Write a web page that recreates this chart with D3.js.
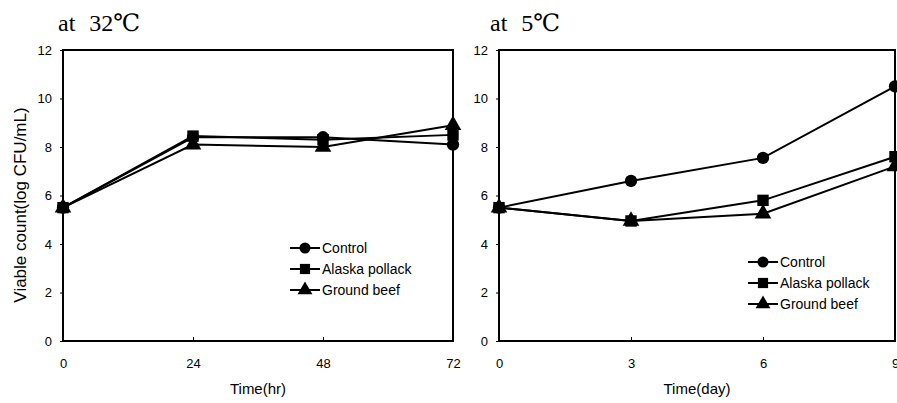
<!DOCTYPE html>
<html lang="en">
<head>
<meta charset="utf-8">
<title>Viable count at 32 and 5 degrees</title>
<script src="https://d3js.org/d3.v7.min.js"></script>
<style>
body { margin: 0; background: #fff; }
.line { fill: none; stroke: #000; stroke-width: 2px; }
.tick text { font-family: "Liberation Sans", Arial, sans-serif; font-size: 13px; }
.lab { font-family: "Liberation Sans", Arial, sans-serif; font-size: 14px; }
.title { font-family: "Liberation Serif", "DejaVu Serif", serif; font-size: 24px; }
</style>
</head>
<body>
<script>

// series names and y ticks
var seriesNames = ["Control", "Alaska pollack", "Ground beef"];
var yTicks = [0, 2, 4, 6, 8, 10, 12];

// at 32C, time in hr
var hotTimes = [0, 24, 48, 72];
var hotControl = [5.5, 8.4, 8.4, 8.1];
var hotPollack = [5.5, 8.45, 8.3, 8.5];
var hotBeef = [5.5, 8.1, 8.0, 8.9];

// at 5C, time in day
var coldTimes = [0, 3, 6, 9];
var coldControl = [5.5, 6.6, 7.55, 10.5];
var coldPollack = [5.5, 4.95, 5.8, 7.6];
var coldBeef = [5.5, 4.95, 5.25, 7.2];

var W = 897, H = 403;
var svg = d3.select("body").append("svg")
    .attr("width", W)
    .attr("height", H);

var symbols = [d3.symbolCircle, d3.symbolSquare, d3.symbolTriangle];
var symSizes = [120, 130, 120];

function panel(opt) {
  var x = d3.scaleLinear().domain(opt.domain).range([opt.left, opt.right]);
  var y = d3.scaleLinear().domain([0, 12]).range([341, 50]);

  var g = svg.append("g");

  g.append("text")
      .attr("class", "title")
      .attr("x", opt.titleX)
      .attr("y", 31)
      .text(opt.title);

  // y axis ticks
  g.append("g")
      .attr("transform", "translate(" + opt.left + ",0)")
      .call(d3.axisLeft(y).tickValues(yTicks).tickSize(3).tickPadding(8))
      .call(function(a) { a.select(".domain").remove(); });

  // x axis ticks, pointing inward
  g.append("g")
      .attr("transform", "translate(0,341)")
      .call(d3.axisBottom(x).tickValues(opt.ticks).tickSizeInner(-4).tickSizeOuter(0).tickPadding(18))
      .call(function(a) { a.select(".domain").remove(); });

  g.selectAll(".tick line").attr("stroke", "#000");
  g.selectAll(".tick text").attr("fill", "#000");

  // frame
  g.append("rect")
      .attr("x", opt.left)
      .attr("y", y(12))
      .attr("width", opt.right - opt.left)
      .attr("height", y(0) - y(12))
      .attr("fill", "none")
      .attr("stroke", "#000")
      .attr("stroke-width", 2);

  var line = d3.line()
      .x(function(d) { return x(d[0]); })
      .y(function(d) { return y(d[1]); });

  opt.series.forEach(function(vals, i) {
    var pts = opt.domainVals.map(function(t, j) { return [t, vals[j]]; });
    g.append("path")
        .datum(pts)
        .attr("class", "line")
        .attr("d", line);
    g.selectAll(".m" + i)
        .data(pts)
        .enter().append("path")
        .attr("transform", function(d) { return "translate(" + x(d[0]) + "," + y(d[1]) + ")"; })
        .attr("d", d3.symbol().type(symbols[i]).size(symSizes[i]))
        .attr("fill", "#000");
  });

  // legend
  seriesNames.forEach(function(name, i) {
    var ly = opt.legendY + i * 21;
    g.append("line")
        .attr("x1", opt.legendX)
        .attr("x2", opt.legendX + 30)
        .attr("y1", ly)
        .attr("y2", ly)
        .attr("stroke", "#000")
        .attr("stroke-width", 2);
    g.append("path")
        .attr("transform", "translate(" + (opt.legendX + 15) + "," + ly + ")")
        .attr("d", d3.symbol().type(symbols[i]).size(symSizes[i] * 0.8))
        .attr("fill", "#000");
    g.append("text")
        .attr("class", "lab")
        .attr("x", opt.legendX + 32)
        .attr("y", ly + 5)
        .text(name);
  });

  g.append("text")
      .attr("class", "lab")
      .attr("x", (opt.left + opt.right) / 2)
      .attr("y", 394)
      .attr("text-anchor", "middle")
      .style("font-size", "15px")
      .text(opt.xLabel);
}

panel({
  left: 63, right: 453,
  domain: [0, 72], ticks: hotTimes, domainVals: hotTimes,
  series: [hotControl, hotPollack, hotBeef],
  title: "at\u2002\u200a32\u2103", titleX: 58,
  legendX: 290, legendY: 248,
  xLabel: "Time(hr)"
});

panel({
  left: 499, right: 895,
  domain: [0, 9], ticks: coldTimes, domainVals: coldTimes,
  series: [coldControl, coldPollack, coldBeef],
  title: "at\u2002\u200a5\u2103", titleX: 490,
  legendX: 748, legendY: 262,
  xLabel: "Time(day)"
});

svg.append("text")
    .attr("class", "lab")
    .attr("transform", "translate(26,205) rotate(-90)")
    .attr("text-anchor", "middle")
    .style("font-size", "17px")
    .text("Viable count(log CFU/mL)");

</script>
</body>
</html>
